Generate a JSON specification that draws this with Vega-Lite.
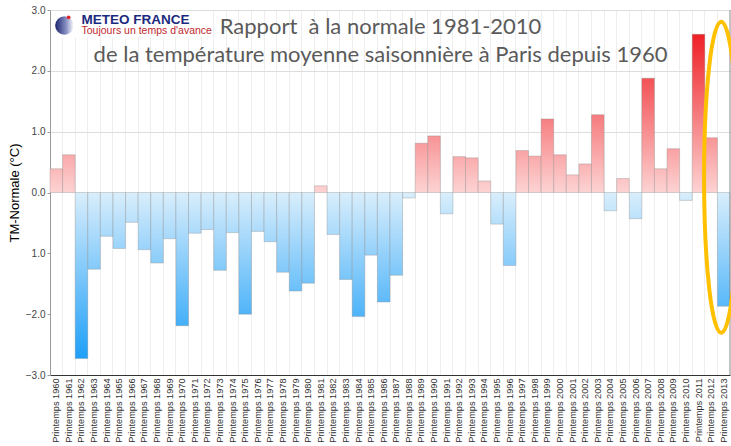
{
  "$schema": "https://vega.github.io/schema/vega-lite/v6.json",
  "width": 680,
  "height": 365,
  "autosize": {"type": "none"},
  "padding": {"left": 50, "top": 10, "right": 1, "bottom": 71},
  "background": "white",
  "config": {"view": {"stroke": null}},
  "data": {"values": [
    {"saison": "Printemps 1960", "v": 0.39},
    {"saison": "Printemps 1961", "v": 0.62},
    {"saison": "Printemps 1962", "v": -2.73},
    {"saison": "Printemps 1963", "v": -1.26},
    {"saison": "Printemps 1964", "v": -0.72},
    {"saison": "Printemps 1965", "v": -0.92},
    {"saison": "Printemps 1966", "v": -0.49},
    {"saison": "Printemps 1967", "v": -0.94},
    {"saison": "Printemps 1968", "v": -1.16},
    {"saison": "Printemps 1969", "v": -0.76},
    {"saison": "Printemps 1970", "v": -2.19},
    {"saison": "Printemps 1971", "v": -0.67},
    {"saison": "Printemps 1972", "v": -0.61},
    {"saison": "Printemps 1973", "v": -1.28},
    {"saison": "Printemps 1974", "v": -0.66},
    {"saison": "Printemps 1975", "v": -2.0},
    {"saison": "Printemps 1976", "v": -0.64},
    {"saison": "Printemps 1977", "v": -0.81},
    {"saison": "Printemps 1978", "v": -1.31},
    {"saison": "Printemps 1979", "v": -1.62},
    {"saison": "Printemps 1980", "v": -1.49},
    {"saison": "Printemps 1981", "v": 0.11},
    {"saison": "Printemps 1982", "v": -0.69},
    {"saison": "Printemps 1983", "v": -1.43},
    {"saison": "Printemps 1984", "v": -2.04},
    {"saison": "Printemps 1985", "v": -1.03},
    {"saison": "Printemps 1986", "v": -1.8},
    {"saison": "Printemps 1987", "v": -1.36},
    {"saison": "Printemps 1988", "v": -0.09},
    {"saison": "Printemps 1989", "v": 0.81},
    {"saison": "Printemps 1990", "v": 0.93},
    {"saison": "Printemps 1991", "v": -0.35},
    {"saison": "Printemps 1992", "v": 0.59},
    {"saison": "Printemps 1993", "v": 0.57},
    {"saison": "Printemps 1994", "v": 0.19},
    {"saison": "Printemps 1995", "v": -0.52},
    {"saison": "Printemps 1996", "v": -1.2},
    {"saison": "Printemps 1997", "v": 0.69},
    {"saison": "Printemps 1998", "v": 0.6},
    {"saison": "Printemps 1999", "v": 1.21},
    {"saison": "Printemps 2000", "v": 0.62},
    {"saison": "Printemps 2001", "v": 0.29},
    {"saison": "Printemps 2002", "v": 0.47},
    {"saison": "Printemps 2003", "v": 1.28},
    {"saison": "Printemps 2004", "v": -0.3},
    {"saison": "Printemps 2005", "v": 0.23},
    {"saison": "Printemps 2006", "v": -0.43},
    {"saison": "Printemps 2007", "v": 1.88},
    {"saison": "Printemps 2008", "v": 0.39},
    {"saison": "Printemps 2009", "v": 0.72},
    {"saison": "Printemps 2010", "v": -0.13},
    {"saison": "Printemps 2011", "v": 2.6},
    {"saison": "Printemps 2012", "v": 0.9},
    {"saison": "Printemps 2013", "v": -1.87}
  ]},
  "layer": [
    {
      "mark": {"type": "bar", "stroke": "#8a8a8a", "strokeWidth": 0.5, "strokeOpacity": 0.7},
      "encoding": {
        "x": {
          "field": "saison", "type": "nominal", "sort": null,
          "scale": {"paddingInner": 0, "paddingOuter": 0},
          "axis": {
            "title": null, "labelAngle": -90, "labelFont": "Liberation Sans", "labelFontSize": 9.2,
            "labelColor": "#333", "labelPadding": 3, "ticks": false, "domainColor": "#333", "domainWidth": 1,
            "grid": true, "gridColor": "#eeeeee", "bandPosition": 0, "labelBound": false, "labelOverlap": false
          }
        },
        "y": {
          "field": "v", "type": "quantitative",
          "scale": {"domain": [-3, 3], "nice": false},
          "axis": {
            "values": [-3, -2, -1, 0, 1, 2, 3],
            "labelExpr": "datum.value == -1 ? '1.0' : format(datum.value, '.1f')",
            "title": "TM-Normale (°C)", "titleFont": "Liberation Sans", "titleFontSize": 13,
            "titleFontWeight": "normal", "titleColor": "#000", "titlePadding": 4,
            "labelFont": "Liberation Sans", "labelFontSize": 10, "labelColor": "#444",
            "tickSize": 3, "tickColor": "#999", "labelPadding": 2, "domainColor": "#999",
            "grid": true, "gridColor": "#dddddd",
            "gridOpacity": {"condition": {"test": "datum.value > 0", "value": 1}, "value": 0}
          }
        },
        "fill": {"value": {"expr": "datum.v >= 0 ? {gradient: 'linear', x1: 0, y1: 1 - 2.65 / max(datum.v, 0.01), x2: 0, y2: 1, stops: [{offset: 0, color: '#ee1d23'}, {offset: 1, color: '#fdd3d3'}]} : {gradient: 'linear', x1: 0, y1: 0, x2: 0, y2: 2.75 / max(-datum.v, 0.01), stops: [{offset: 0, color: '#d9eefc'}, {offset: 1, color: '#1d9ff8'}]}"}}
      }
    },
    {
      "data": {"values": [{}]},
      "mark": {"type": "rule", "color": "#888", "strokeWidth": 1},
      "encoding": {
        "x": {"datum": "Printemps 2013", "bandPosition": 1}
      }
    },
    {
      "data": {"values": [{}]},
      "mark": {"type": "rect", "color": "#ffffff", "opacity": 1},
      "encoding": {
        "x": {"datum": "Printemps 1960", "bandPosition": 0.25},
        "x2": {"datum": "Printemps 1972", "bandPosition": 0.3},
        "y": {"datum": 2.97},
        "y2": {"datum": 2.55}
      }
    },
    {
      "data": {"values": [{}]},
      "mark": {"type": "text", "font": "Lato", "fontSize": 22, "color": "#5a5a5a", "align": "center", "baseline": "alphabetic"},
      "encoding": {
        "x": {"datum": "Printemps 1986", "bandPosition": 0.25},
        "y": {"datum": 2.6},
        "text": {"value": "Rapport \u00a0à la normale 1981-2010"}
      }
    },
    {
      "data": {"values": [{}]},
      "mark": {"type": "text", "font": "Lato", "fontSize": 22, "color": "#5a5a5a", "align": "center", "baseline": "alphabetic"},
      "encoding": {
        "x": {"datum": "Printemps 1986", "bandPosition": 0.25},
        "y": {"datum": 2.14},
        "text": {"value": "de la température moyenne saisonnière à Paris depuis 1960"}
      }
    },
    {
      "data": {"values": [{}]},
      "mark": {"type": "text", "font": "Liberation Sans", "fontSize": 13.5, "fontWeight": "bold", "color": "#1b2a7e", "align": "left", "baseline": "alphabetic"},
      "encoding": {
        "x": {"datum": "Printemps 1962", "bandPosition": 0.5},
        "y": {"datum": 2.77},
        "text": {"value": "METEO FRANCE"}
      }
    },
    {
      "data": {"values": [{}]},
      "mark": {"type": "text", "font": "Liberation Sans", "fontSize": 10.5, "color": "#c1272d", "align": "left", "baseline": "alphabetic"},
      "encoding": {
        "x": {"datum": "Printemps 1962", "bandPosition": 0.5},
        "y": {"datum": 2.605},
        "text": {"value": "Toujours un temps d'avance"}
      }
    },
    {
      "data": {"values": [{}]},
      "mark": {"type": "point", "shape": "circle", "filled": true, "size": 346, "opacity": 1,
        "fill": {"gradient": "linear", "x1": 0, "y1": 0.5, "x2": 1, "y2": 0.5, "stops": [{"offset": 0, "color": "#1b2570"}, {"offset": 0.6, "color": "#8a92c4"}, {"offset": 1, "color": "#ffffff"}]}},
      "encoding": {
        "x": {"datum": "Printemps 1961", "bandPosition": 0.15},
        "y": {"datum": 2.745}
      }
    },
    {
      "data": {"values": [{}]},
      "mark": {"type": "point", "shape": "circle", "filled": true, "size": 14, "color": "#e0262b", "opacity": 1},
      "encoding": {
        "x": {"datum": "Printemps 1961", "bandPosition": 0.48},
        "y": {"datum": 2.88}
      }
    },
    {
      "data": {"values": [{}]},
      "mark": {"type": "point", "filled": false, "size": 96721, "stroke": "#ffc000", "strokeWidth": 4, "opacity": 1,
        "shape": "M0,-1C0.061,-1 0.11,-0.552 0.11,0C0.11,0.552 0.061,1 0,1C-0.061,1 -0.11,0.552 -0.11,0C-0.11,-0.552 -0.061,-1 0,-1Z"},
      "encoding": {
        "x": {"datum": "Printemps 2013", "bandPosition": 0.3},
        "y": {"datum": 0.25}
      }
    }
  ]
}
